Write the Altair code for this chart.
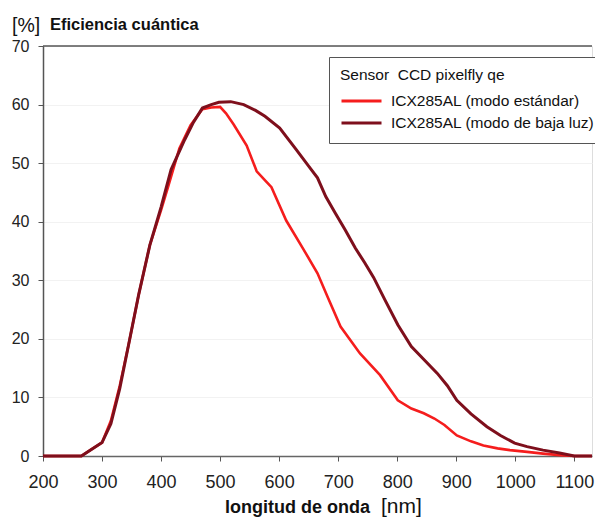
import altair as alt
import pandas as pd

# ---- data ----
std_nm = [200, 265, 280, 300, 315, 330, 345, 362, 381, 400, 412, 431, 450, 470, 485, 500,
          510, 523, 545, 562, 575, 587, 612, 640, 665, 682, 704, 737, 771, 801, 824, 845,
          863, 880, 901, 925, 946, 970, 991, 1020, 1047, 1075, 1100, 1130]
std_qe = [0, 0, 1.0, 2.3, 6.0, 12.0, 19.0, 27.5, 36.0, 42.0, 46.0, 52.5, 56.5, 59.2, 59.5, 59.6,
          58.5, 56.6, 53.0, 48.6, 47.2, 45.9, 40.2, 35.5, 31.2, 27.2, 22.1, 17.5, 13.8, 9.5, 8.1, 7.3,
          6.4, 5.3, 3.5, 2.5, 1.8, 1.3, 1.0, 0.7, 0.4, 0.15, 0, 0]

low_nm = [200, 265, 280, 300, 315, 330, 345, 362, 381, 400, 417, 440, 455, 470, 485, 498,
          518, 540, 560, 576, 601, 629, 650, 665, 679, 695, 712, 729, 745, 760, 779, 801,
          824, 846, 868, 885, 901, 925, 952, 975, 999, 1020, 1047, 1075, 1100, 1130]
low_qe = [0, 0, 1.0, 2.3, 5.5, 11.5, 19.0, 27.5, 36.0, 42.5, 48.9, 54.0, 57.0, 59.4, 60.0, 60.4,
          60.5, 60.0, 59.0, 58.0, 56.0, 52.3, 49.5, 47.5, 44.3, 41.5, 38.6, 35.5, 33.0, 30.5, 26.7, 22.4,
          18.7, 16.4, 14.1, 12.0, 9.5, 7.2, 5.0, 3.5, 2.2, 1.6, 1.0, 0.5, 0, 0]

series_names = ["ICX285AL (modo estándar)", "ICX285AL (modo de baja luz)"]
series_colors = ["#f51d1d", "#7e0f1c"]

x_ticks = [200, 300, 400, 500, 600, 700, 800, 900, 1000, 1100]
y_ticks = [0, 10, 20, 30, 40, 50, 60, 70]

df_std = pd.DataFrame({"nm": std_nm, "qe": std_qe, "serie": series_names[0]})
df_low = pd.DataFrame({"nm": low_nm, "qe": low_qe, "serie": series_names[1]})

FONT = "Liberation Sans"

xscale = alt.Scale(domain=[200, 1130], nice=False, zero=False)
yscale = alt.Scale(domain=[0, 70], nice=False)
cscale = alt.Scale(domain=series_names, range=series_colors)

xenc = alt.X("nm:Q", scale=xscale,
             axis=alt.Axis(values=x_ticks, format="d", title=None, grid=False, tickSize=5,
                           labelPadding=12, labelFontSize=18, labelColor="#222",
                           domainColor="#666", tickColor="#555", domainWidth=1.5,
                           labelFlush=False))
yenc = alt.Y("qe:Q", scale=yscale,
             axis=alt.Axis(values=y_ticks, title=None, grid=True, gridColor="#f2f2f2",
                           tickSize=5, labelPadding=9, labelFontSize=16, labelColor="#222",
                           domainColor="#555", tickColor="#555", domainWidth=1.5))

legend = alt.Legend(title="Sensor\u00a0\u00a0CCD pixelfly qe", orient="none",
                    legendX=286, legendY=11, fillColor="white", strokeColor="#555",
                    padding=11, titleFontSize=15.5, titleFontWeight="normal",
                    titleColor="#111", titleFont=FONT, labelFont=FONT,
                    labelFontSize=15.5, labelColor="#111", labelLimit=400,
                    symbolType="M-1,0H3", symbolSize=400, symbolStrokeWidth=3,
                    symbolFillColor="transparent",
                    labelOffset=28, titlePadding=6, rowPadding=2)

line_std = alt.Chart(df_std).mark_line(strokeWidth=2.6).encode(
    x=xenc, y=yenc,
    color=alt.Color("serie:N", scale=cscale, legend=legend))
line_low = alt.Chart(df_low).mark_line(strokeWidth=3).encode(
    x=xenc, y=yenc,
    color=alt.Color("serie:N", scale=cscale, legend=legend))

top_rule = alt.Chart(pd.DataFrame({"v": [70]})).mark_rule(color="#555", strokeWidth=1.5).encode(
    y=alt.Y("v:Q", scale=yscale))

def label(text, x, y, size, weight="normal", align="left"):
    return alt.Chart(pd.DataFrame({"t": [text]})).mark_text(
        font=FONT, fontSize=size, fontWeight=weight, align=align, baseline="middle",
        color="#111").encode(text="t:N", x=alt.value(x), y=alt.value(y))

t1 = label("[%]", -31, -20, 19.5)
t2 = label("Eficiencia cuántica", 7, -21, 16.5, "bold")
t3 = label("longitud de onda", 327, 462, 18, "bold", "right")
t4 = label("[nm]", 338, 461, 21)

chart = alt.layer(top_rule, line_std, line_low, t1, t2, t3, t4).properties(
    width=549, height=410,
    autosize=alt.AutoSizeParams(type="none"),
    padding={"left": 35, "top": 38, "right": 3, "bottom": 64},
).configure_view(stroke=None).configure(font=FONT)

chart.save("out.html", embed_options={"renderer": "svg", "actions": False})
